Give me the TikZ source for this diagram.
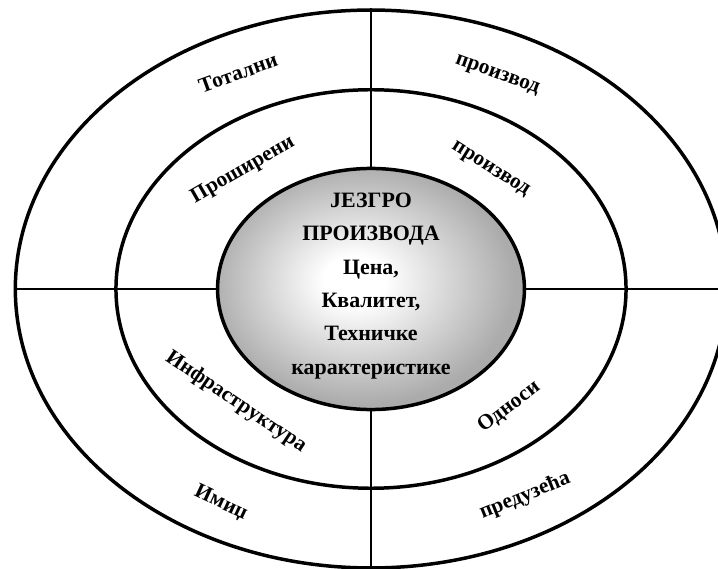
\documentclass[tikz,border=0pt]{standalone}
\usepackage{fontspec}
\setmainfont{Liberation Serif}
\usetikzlibrary{shapes.geometric}
\pgfdeclareradialshading{coreshade}{\pgfpoint{-3bp}{2bp}}{color(0bp)=(white); color(5bp)=(white); color(25bp)=(black!33); color(50bp)=(black!33)}
\tikzset{
  ring/.style    = {draw, ellipse, line width=3.5pt, inner sep=0pt},
  core/.style    = {ring, shade, shading=coreshade},
  coretxt/.style = {align=center, inner sep=0pt,
                    font=\rmfamily\bfseries\fontsize{22}{33.5}\selectfont},
  sep/.style     = {line width=2.3pt},
  lbl/.style     = {font=\rmfamily\bfseries\fontsize{21.5}{24}\selectfont, inner sep=1pt},
}
\begin{document}
\begin{tikzpicture}[x=1bp, y=1bp]
  \useasboundingbox (-371,-280) rectangle (347,289);
  % rings
  \node[ring, minimum width=714, minimum height=560] (outer) at (0,0) {};
  \node[ring, minimum width=512, minimum height=400] (middle) at (0,0) {};
  % cross
  \draw[sep] (outer.north) -- (outer.south);
  \draw[sep] (outer.west) -- (outer.east);
  % core
  \node[core, minimum width=308, minimum height=242] (core) at (0,0) {};
  \node[coretxt] (coretext) at (0,3) {ЈЕЗГРО\\ПРОИЗВОДА\\Цена,\\Квалитет,\\Техничке\\карактеристике};
  % ring labels
  \node[lbl, rotate=20]  (totalni)   at (-133,216) {Тотални};
  \node[lbl, rotate=-20] (proizvodA) at (126,213)  {производ};
  \node[lbl, rotate=30]  (prosireni) at (-128,119) {Проширени};
  \node[lbl, rotate=-32] (proizvodB) at (119,119)  {производ};
  \node[lbl, rotate=-34] (infra)     at (-135,-113) {Инфраструктура};
  \node[lbl, rotate=37]  (odnosi)    at (138,-118) {Односи};
  \node[lbl, rotate=-25] (imidz)     at (-150,-214) {Имиџ};
  \node[lbl, rotate=22]  (preduzeca) at (154,-207) {предузећа};
\end{tikzpicture}
\end{document}
